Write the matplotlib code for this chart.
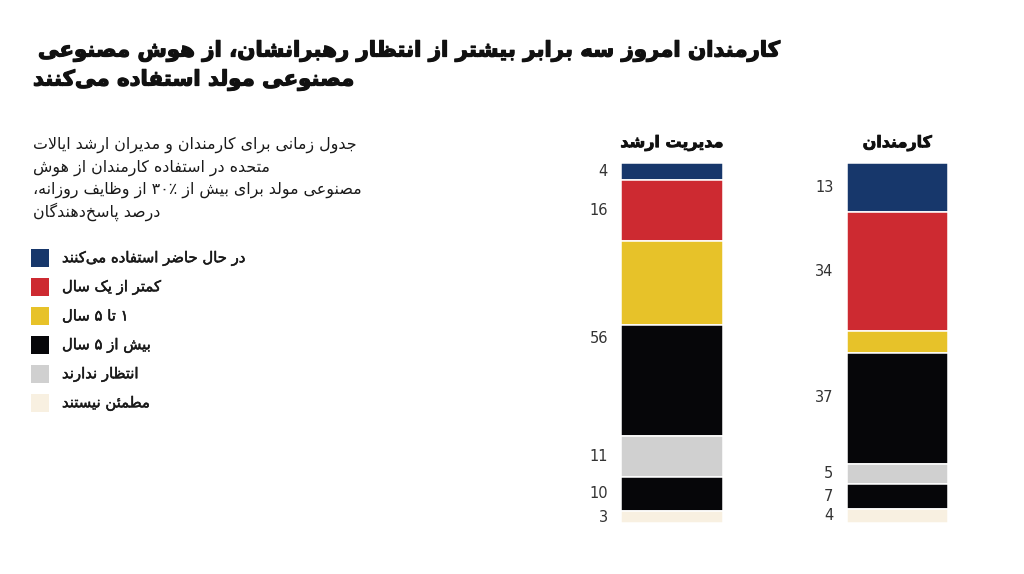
import re
import matplotlib
matplotlib.use('Agg')
import matplotlib.pyplot as plt
from matplotlib.patches import Rectangle
import matplotlib.patheffects as pe

plt.rcParams['font.family'] = ['DejaVu Sans']

# ---- data ----
groups = ['مدیریت ارشد', 'کارمندان']
series = ['در حال حاضر استفاده می‌کنند', 'کمتر از یک سال', '۱ تا ۵ سال',
          'بیش از ۵ سال', 'انتظار ندارند', 'مطمئن نیستند']
# segment order top -> bottom (the black "بیش از ۵ سال" shade shows up twice)
seg_series = [0, 1, 2, 3, 4, 3, 5]
senior_seg = [4.6, 17.0, 23.3, 30.8, 11.4, 9.5, 3.3]
staff_seg = [13.4, 33.3, 6.0, 30.7, 5.6, 6.9, 4.1]
# printed numbers and the segments each one sits beside
senior_labels = ['4', '16', '56', '11', '10', '3']
staff_labels = ['13', '34', '37', '5', '7', '4']
label_spans = [[0], [1], [2, 3], [4], [5], [6]]

title_lines = ['کارمندان امروز سه برابر بیشتر از انتظار رهبرانشان، از هوش مصنوعی',
               'مصنوعی مولد استفاده می‌کنند']
subtitle_lines = ['جدول زمانی برای کارمندان و مدیران ارشد ایالات',
                  'متحده در استفاده کارمندان از هوش',
                  'مصنوعی مولد برای بیش از ۳۰٪ از وظایف روزانه،',
                  'درصد پاسخ‌دهندگان']

colors = ['#17376b', '#cd2a31', '#e7c229', '#060609', '#d0d0d0', '#f8f0e1']

# ---- minimal arabic/persian shaping (matplotlib has no bidi support) ----
SHAPES = {
    'ء': (0xFE80, 0), 'آ': (0xFE81, 1), 'أ': (0xFE83, 1), 'ؤ': (0xFE85, 1), 'إ': (0xFE87, 1),
    'ئ': (0xFE89, 2), 'ا': (0xFE8D, 1), 'ب': (0xFE8F, 2), 'ة': (0xFE93, 1), 'ت': (0xFE95, 2),
    'ث': (0xFE99, 2), 'ج': (0xFE9D, 2), 'ح': (0xFEA1, 2), 'خ': (0xFEA5, 2), 'د': (0xFEA9, 1),
    'ذ': (0xFEAB, 1), 'ر': (0xFEAD, 1), 'ز': (0xFEAF, 1), 'س': (0xFEB1, 2), 'ش': (0xFEB5, 2),
    'ص': (0xFEB9, 2), 'ض': (0xFEBD, 2), 'ط': (0xFEC1, 2), 'ظ': (0xFEC5, 2), 'ع': (0xFEC9, 2),
    'غ': (0xFECD, 2), 'ف': (0xFED1, 2), 'ق': (0xFED5, 2), 'ك': (0xFED9, 2), 'ل': (0xFEDD, 2),
    'م': (0xFEE1, 2), 'ن': (0xFEE5, 2), 'ه': (0xFEE9, 2), 'و': (0xFEED, 1), 'ى': (0xFEEF, 1),
    'ي': (0xFEF1, 2), 'پ': (0xFB56, 2), 'چ': (0xFB7A, 2), 'ژ': (0xFB8A, 1), 'ک': (0xFB8E, 2),
    'گ': (0xFB92, 2), 'ی': (0xFBFC, 2),
    '\uFEFB': (0xFEFB, 1), '\uFEF5': (0xFEF5, 1), '\uFEF7': (0xFEF7, 1), '\uFEF9': (0xFEF9, 1),
}
LAM_ALEF = {'لا': '\uFEFB', 'لآ': '\uFEF5', 'لأ': '\uFEF7', 'لإ': '\uFEF9'}


def jtype(c):
    return SHAPES[c][1] if c in SHAPES else 0


def shape(text):
    for k, v in LAM_ALEF.items():
        text = text.replace(k, v)
    out = []
    for i, c in enumerate(text):
        if c not in SHAPES:
            out.append(c)
            continue
        start, t = SHAPES[c]
        prev = text[i - 1] if i > 0 else ''
        nxt = text[i + 1] if i + 1 < len(text) else ''
        jp = t > 0 and jtype(prev) == 2
        jn = t == 2 and jtype(nxt) > 0
        if jp and jn:
            off = 3
        elif jp:
            off = 1
        elif jn:
            off = 2
        else:
            off = 0
        out.append(chr(start + off))
    return ''.join(out).replace('\u200c', '')


def rtl(text):
    s = shape(text)
    parts = re.split(r'([0-9۰-۹٪%]+)', s)
    parts = [p if re.fullmatch(r'[0-9۰-۹٪%]+', p) else p[::-1] for p in parts]
    return ''.join(parts[::-1])


# ---- figure ----
fig = plt.figure(figsize=(10.24, 5.74), dpi=100)
fig.patch.set_facecolor('white')

# overlay in pixel coordinates for the text block on the left
ov = fig.add_axes([0, 0, 1, 1])
ov.set_xlim(0, 1024)
ov.set_ylim(574, 0)
ov.axis('off')

heavy = [pe.withStroke(linewidth=0.9, foreground='#111111')]
title_y = [51, 80]
title_x = [38, 33]
for line, x, y in zip(title_lines, title_x, title_y):
    ov.text(x, y, rtl(line), fontsize=15.3, fontweight='bold', color='#111111',
            ha='left', va='center', path_effects=heavy)

sub_y = [145, 168, 190, 212]
for line, y in zip(subtitle_lines, sub_y):
    ov.text(33, y, rtl(line), fontsize=11.4, color='#1a1a1a', ha='left', va='center')

medium = [pe.withStroke(linewidth=0.35, foreground='#1a1a1a')]
leg_y = [258, 287, 316, 345, 374, 403]
for name, col, y in zip(series, colors, leg_y):
    ov.add_patch(Rectangle((31, y - 9), 18, 18, facecolor=col, edgecolor='none'))
    ov.text(62, y, rtl(name), fontsize=10.7, color='#1a1a1a',
            ha='left', va='center', path_effects=medium)

# bars
ax = fig.add_axes([559.25 / 1024, 1 - 523.3 / 574, 451 / 1024, 360 / 574])
ax.set_xlim(-0.5, 1.5)
ax.set_ylim(100, 0)
ax.axis('off')
bar_w = 0.448

for xi, (segs, labels) in enumerate([(senior_seg, senior_labels), (staff_seg, staff_labels)]):
    bottom = 0
    tops = []
    for v, si in zip(segs, seg_series):
        ax.bar(xi, v, bottom=bottom, width=bar_w, color=colors[si],
               edgecolor='white', linewidth=1.1)
        tops.append(bottom)
        bottom += v
    for lab, span in zip(labels, label_spans):
        y0 = tops[span[0]]
        y1 = tops[span[-1]] + segs[span[-1]]
        ax.text(xi - bar_w / 2 - 0.06, (y0 + y1) / 2, lab, fontsize=10.5,
                color='#333333', ha='right', va='center')
    ax.text(xi, -5.6, rtl(groups[xi]), fontsize=11.5, fontweight='bold',
            color='#111111', ha='center', va='center', clip_on=False,
            path_effects=[pe.withStroke(linewidth=0.6, foreground='#111111')])

fig.savefig('out.png', dpi=100)
